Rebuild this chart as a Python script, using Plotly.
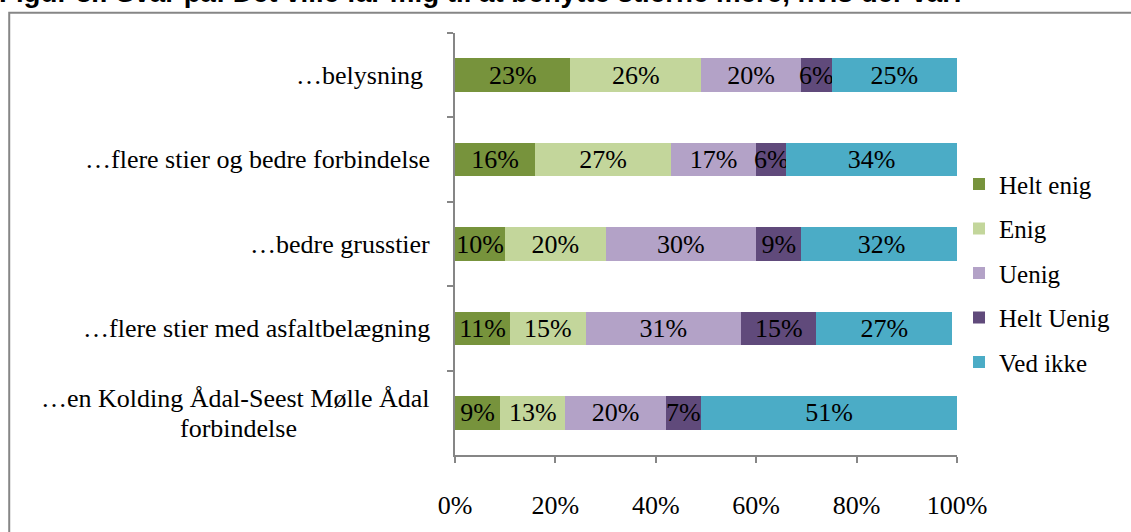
import plotly.graph_objects as go

# Survey statements (top to bottom) and response shares in percent
statements = [
    "…belysning",
    "…flere stier og bedre forbindelse",
    "…bedre grusstier",
    "…flere stier med asfaltbelægning",
    "…en Kolding Ådal-Seest Mølle Ådal forbindelse",
]
responses = ["Helt enig", "Enig", "Uenig", "Helt Uenig", "Ved ikke"]

helt_enig = [23, 16, 10, 11, 9]
enig = [26, 27, 20, 15, 13]
uenig = [20, 17, 30, 31, 20]
helt_uenig = [6, 6, 9, 15, 7]
ved_ikke = [25, 34, 32, 27, 51]

x_ticks = [0, 20, 40, 60, 80, 100]

series = [helt_enig, enig, uenig, helt_uenig, ved_ikke]
colors = ["#77933C", "#C3D69B", "#B3A2C7", "#604A7B", "#4BACC6"]

SERIF = "Liberation Serif"
FS = 26
AXIS_GREY = "#868686"

fig = go.Figure()
for name, vals, col in zip(responses, series, colors):
    fig.add_trace(go.Bar(
        y=statements,
        x=vals,
        name=name,
        orientation="h",
        marker=dict(color=col, line=dict(width=0)),
        text=[f"{v}%" for v in vals],
        textposition="inside",
        insidetextanchor="middle",
        textangle=0,
        constraintext="none",
        textfont=dict(family=SERIF, size=FS, color="black"),
        insidetextfont=dict(family=SERIF, size=FS, color="black"),
        legendgroup=name,
        hoverinfo="skip",
    ))

# Category labels to the left of the bars
label_font = dict(family=SERIF, size=FS, color="black")
annotations = []
for s in statements[:-1]:
    text = s + "\u00a0" if s == "…belysning" else s
    annotations.append(dict(
        x=-0.045, xref="paper", y=s, yref="y",
        text=text, showarrow=False, xanchor="right", yanchor="middle",
        font=label_font,
    ))
# The last statement wraps onto two centred lines
last = statements[-1]
annotations.append(dict(
    x=-0.045, xref="paper", y=last, yref="y", yshift=14,
    text="…en Kolding Ådal-Seest Mølle Ådal", showarrow=False,
    xanchor="right", yanchor="middle", font=label_font,
))
annotations.append(dict(
    x=-0.432, xref="paper", y=last, yref="y", yshift=-16,
    text="forbindelse", showarrow=False,
    xanchor="center", yanchor="middle", font=label_font,
))

# Figure caption along the top edge
annotations.append(dict(
    x=-0.912, xref="paper", y=1.0552, yref="paper",
    text="<b>Figur 8.: Svar på: Det ville får mig til at benytte stierne mere, hvis der var:</b>",
    showarrow=False, xanchor="left", yanchor="bottom",
    font=dict(family="Liberation Sans", size=27.7, color="black"),
))

fig.update_layout(
    width=1131, height=532,
    margin=dict(l=455, r=174, t=33, b=64),
    paper_bgcolor="white", plot_bgcolor="white",
    barmode="stack", bargap=0.6,
    showlegend=True,
    legend=dict(
        x=1.004, xanchor="left", y=0.696, yanchor="top",
        traceorder="grouped", tracegroupgap=9,
        font=dict(family=SERIF, size=25, color="black"),
        bgcolor="rgba(0,0,0,0)",
    ),
    annotations=annotations,
    shapes=[dict(
        type="rect", xref="paper", yref="paper",
        x0=-0.888, x1=1.6, y0=-0.3, y1=1.048,
        line=dict(color=AXIS_GREY, width=2), fillcolor="rgba(0,0,0,0)",
        layer="below",
    )],
)

fig.update_xaxes(
    range=[0, 100], tickvals=x_ticks, ticktext=[f"{t}%" for t in x_ticks],
    showgrid=False, zeroline=False,
    showline=True, linecolor=AXIS_GREY, linewidth=1.5,
    ticks="outside", ticklen=6, tickcolor=AXIS_GREY, tickwidth=1.5,
    ticklabelstandoff=20,
    tickfont=dict(family=SERIF, size=FS, color="black"),
)
fig.update_yaxes(
    categoryorder="array", categoryarray=statements, autorange="reversed",
    showticklabels=False, showgrid=False, zeroline=False,
    showline=True, linecolor=AXIS_GREY, linewidth=1.5,
    ticks="outside", tickson="boundaries", ticklen=6,
    tickcolor=AXIS_GREY, tickwidth=1.5,
)

fig.write_html("out.html")
